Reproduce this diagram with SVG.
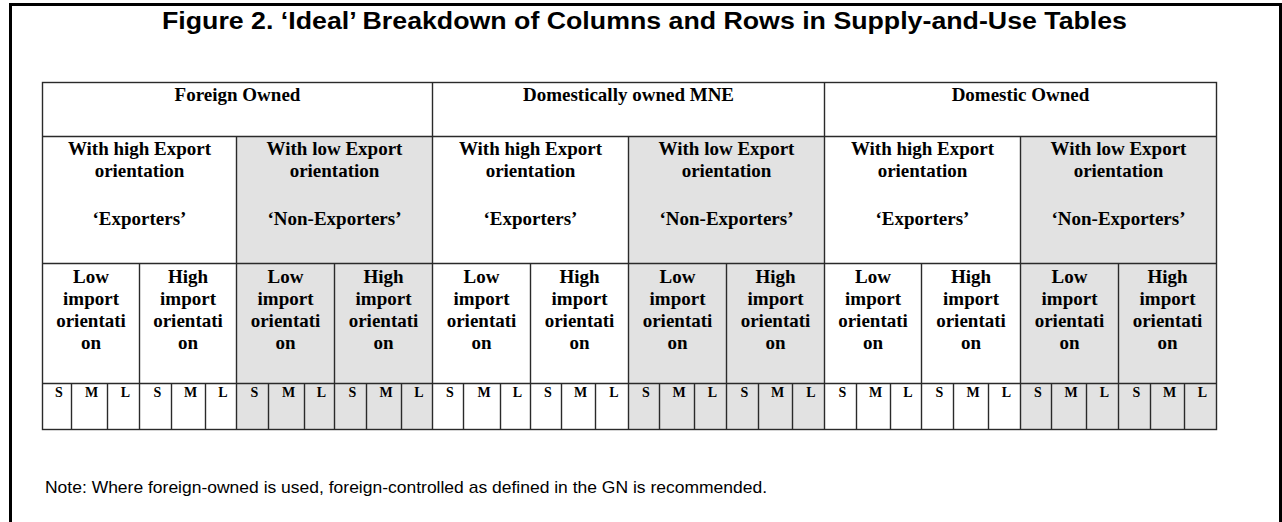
<svg xmlns="http://www.w3.org/2000/svg" width="1282" height="522" viewBox="0 0 1282 522">
<style>
.title{font-family:"Liberation Sans",Arial,sans-serif;font-weight:bold;font-size:23px;fill:#000}
.note{font-family:"Liberation Sans",Arial,sans-serif;font-size:17px;fill:#000}
.h{font-family:"Liberation Serif","Times New Roman",serif;font-weight:bold;font-size:19px;fill:#000;text-anchor:middle}
.s{font-family:"Liberation Serif","Times New Roman",serif;font-weight:bold;font-size:14px;fill:#000;text-anchor:middle}
.shade{fill:#e2e2e2}
.grid line,.grid rect{stroke:#2a2a2a;stroke-width:1.4;fill:none}
.frame{fill:none;stroke:#000;stroke-width:3}
</style>
<rect width="1282" height="522" fill="#fff"/>
<path class="frame" d="M10.5,530 V4.5 H1280.5 V530"/>
<text id="title" class="title" x="162" y="29" textLength="965" lengthAdjust="spacingAndGlyphs">Figure 2. ‘Ideal’ Breakdown of Columns and Rows in Supply-and-Use Tables</text>

<g id="shading">
<rect class="shade" x="236.5" y="136.5" width="196" height="293"/>
<rect class="shade" x="628.5" y="136.5" width="196" height="293"/>
<rect class="shade" x="1020.5" y="136.5" width="196" height="293"/>
</g>

<g id="grid" class="grid">
<rect x="42.5" y="82.5" width="1174" height="347"/>
<line x1="42.5" y1="136.5" x2="1216.5" y2="136.5"/>
<line x1="42.5" y1="263.5" x2="1216.5" y2="263.5"/>
<line x1="42.5" y1="383.5" x2="1216.5" y2="383.5"/>
<line x1="432.5" y1="82.5" x2="432.5" y2="429.5"/>
<line x1="824.5" y1="82.5" x2="824.5" y2="429.5"/>
<line x1="236.5" y1="136.5" x2="236.5" y2="429.5"/>
<line x1="628.5" y1="136.5" x2="628.5" y2="429.5"/>
<line x1="1020.5" y1="136.5" x2="1020.5" y2="429.5"/>
<line x1="139.5" y1="263.5" x2="139.5" y2="429.5"/>
<line x1="334.5" y1="263.5" x2="334.5" y2="429.5"/>
<line x1="530.5" y1="263.5" x2="530.5" y2="429.5"/>
<line x1="726.5" y1="263.5" x2="726.5" y2="429.5"/>
<line x1="921.5" y1="263.5" x2="921.5" y2="429.5"/>
<line x1="1118.5" y1="263.5" x2="1118.5" y2="429.5"/>
<line x1="71.5" y1="383.5" x2="71.5" y2="429.5"/>
<line x1="107.5" y1="383.5" x2="107.5" y2="429.5"/>
<line x1="171.5" y1="383.5" x2="171.5" y2="429.5"/>
<line x1="205.5" y1="383.5" x2="205.5" y2="429.5"/>
<line x1="268.5" y1="383.5" x2="268.5" y2="429.5"/>
<line x1="304.5" y1="383.5" x2="304.5" y2="429.5"/>
<line x1="366.5" y1="383.5" x2="366.5" y2="429.5"/>
<line x1="401.5" y1="383.5" x2="401.5" y2="429.5"/>
<line x1="463.5" y1="383.5" x2="463.5" y2="429.5"/>
<line x1="500.5" y1="383.5" x2="500.5" y2="429.5"/>
<line x1="561.5" y1="383.5" x2="561.5" y2="429.5"/>
<line x1="595.5" y1="383.5" x2="595.5" y2="429.5"/>
<line x1="659.5" y1="383.5" x2="659.5" y2="429.5"/>
<line x1="694.5" y1="383.5" x2="694.5" y2="429.5"/>
<line x1="758.5" y1="383.5" x2="758.5" y2="429.5"/>
<line x1="792.5" y1="383.5" x2="792.5" y2="429.5"/>
<line x1="856.5" y1="383.5" x2="856.5" y2="429.5"/>
<line x1="890.5" y1="383.5" x2="890.5" y2="429.5"/>
<line x1="953.5" y1="383.5" x2="953.5" y2="429.5"/>
<line x1="988.5" y1="383.5" x2="988.5" y2="429.5"/>
<line x1="1051.5" y1="383.5" x2="1051.5" y2="429.5"/>
<line x1="1086.5" y1="383.5" x2="1086.5" y2="429.5"/>
<line x1="1150.5" y1="383.5" x2="1150.5" y2="429.5"/>
<line x1="1184.5" y1="383.5" x2="1184.5" y2="429.5"/>
</g>

<g id="owner-headers">
<text class="h" x="237.5" y="101">Foreign Owned</text>
<text class="h" x="628.5" y="101">Domestically owned MNE</text>
<text class="h" x="1020.5" y="101">Domestic Owned</text>
</g>

<g id="export-headers">
<g id="exp-1"><text class="h" x="139.5" y="155">With high Export</text><text class="h" x="139.5" y="177">orientation</text><text class="h" x="139.5" y="225">‘Exporters’</text></g>
<g id="exp-2"><text class="h" x="334.5" y="155">With low Export</text><text class="h" x="334.5" y="177">orientation</text><text class="h" x="334.5" y="225">‘Non-Exporters’</text></g>
<g id="exp-3"><text class="h" x="530.5" y="155">With high Export</text><text class="h" x="530.5" y="177">orientation</text><text class="h" x="530.5" y="225">‘Exporters’</text></g>
<g id="exp-4"><text class="h" x="726.5" y="155">With low Export</text><text class="h" x="726.5" y="177">orientation</text><text class="h" x="726.5" y="225">‘Non-Exporters’</text></g>
<g id="exp-5"><text class="h" x="922.5" y="155">With high Export</text><text class="h" x="922.5" y="177">orientation</text><text class="h" x="922.5" y="225">‘Exporters’</text></g>
<g id="exp-6"><text class="h" x="1118.5" y="155">With low Export</text><text class="h" x="1118.5" y="177">orientation</text><text class="h" x="1118.5" y="225">‘Non-Exporters’</text></g>
</g>

<g id="import-headers">
<g id="imp-1"><text class="h" x="91" y="283">Low</text><text class="h" x="91" y="305">import</text><text class="h" x="91" y="327">orientati</text><text class="h" x="91" y="349">on</text></g>
<g id="imp-2"><text class="h" x="188" y="283">High</text><text class="h" x="188" y="305">import</text><text class="h" x="188" y="327">orientati</text><text class="h" x="188" y="349">on</text></g>
<g id="imp-3"><text class="h" x="285.5" y="283">Low</text><text class="h" x="285.5" y="305">import</text><text class="h" x="285.5" y="327">orientati</text><text class="h" x="285.5" y="349">on</text></g>
<g id="imp-4"><text class="h" x="383.5" y="283">High</text><text class="h" x="383.5" y="305">import</text><text class="h" x="383.5" y="327">orientati</text><text class="h" x="383.5" y="349">on</text></g>
<g id="imp-5"><text class="h" x="481.5" y="283">Low</text><text class="h" x="481.5" y="305">import</text><text class="h" x="481.5" y="327">orientati</text><text class="h" x="481.5" y="349">on</text></g>
<g id="imp-6"><text class="h" x="579.5" y="283">High</text><text class="h" x="579.5" y="305">import</text><text class="h" x="579.5" y="327">orientati</text><text class="h" x="579.5" y="349">on</text></g>
<g id="imp-7"><text class="h" x="677.5" y="283">Low</text><text class="h" x="677.5" y="305">import</text><text class="h" x="677.5" y="327">orientati</text><text class="h" x="677.5" y="349">on</text></g>
<g id="imp-8"><text class="h" x="775.5" y="283">High</text><text class="h" x="775.5" y="305">import</text><text class="h" x="775.5" y="327">orientati</text><text class="h" x="775.5" y="349">on</text></g>
<g id="imp-9"><text class="h" x="873" y="283">Low</text><text class="h" x="873" y="305">import</text><text class="h" x="873" y="327">orientati</text><text class="h" x="873" y="349">on</text></g>
<g id="imp-10"><text class="h" x="971" y="283">High</text><text class="h" x="971" y="305">import</text><text class="h" x="971" y="327">orientati</text><text class="h" x="971" y="349">on</text></g>
<g id="imp-11"><text class="h" x="1069.5" y="283">Low</text><text class="h" x="1069.5" y="305">import</text><text class="h" x="1069.5" y="327">orientati</text><text class="h" x="1069.5" y="349">on</text></g>
<g id="imp-12"><text class="h" x="1167.5" y="283">High</text><text class="h" x="1167.5" y="305">import</text><text class="h" x="1167.5" y="327">orientati</text><text class="h" x="1167.5" y="349">on</text></g>
</g>

<g id="size-cells">
<text class="s" x="59" y="397">S</text><text class="s" x="91.5" y="397">M</text><text class="s" x="125.5" y="397">L</text>
<text class="s" x="157.5" y="397">S</text><text class="s" x="190.5" y="397">M</text><text class="s" x="223" y="397">L</text>
<text class="s" x="254.5" y="397">S</text><text class="s" x="288.5" y="397">M</text><text class="s" x="321.5" y="397">L</text>
<text class="s" x="352.5" y="397">S</text><text class="s" x="386" y="397">M</text><text class="s" x="419" y="397">L</text>
<text class="s" x="450" y="397">S</text><text class="s" x="484" y="397">M</text><text class="s" x="517.5" y="397">L</text>
<text class="s" x="548" y="397">S</text><text class="s" x="580.5" y="397">M</text><text class="s" x="614" y="397">L</text>
<text class="s" x="646" y="397">S</text><text class="s" x="679" y="397">M</text><text class="s" x="712.5" y="397">L</text>
<text class="s" x="744.5" y="397">S</text><text class="s" x="777.5" y="397">M</text><text class="s" x="811" y="397">L</text>
<text class="s" x="842.5" y="397">S</text><text class="s" x="875.5" y="397">M</text><text class="s" x="908" y="397">L</text>
<text class="s" x="939.5" y="397">S</text><text class="s" x="973" y="397">M</text><text class="s" x="1006.5" y="397">L</text>
<text class="s" x="1038" y="397">S</text><text class="s" x="1071" y="397">M</text><text class="s" x="1104.5" y="397">L</text>
<text class="s" x="1136.5" y="397">S</text><text class="s" x="1169.5" y="397">M</text><text class="s" x="1202.5" y="397">L</text>
</g>

<text id="note" class="note" x="45" y="493" textLength="722" lengthAdjust="spacingAndGlyphs">Note: Where foreign-owned is used, foreign-controlled as defined in the GN is recommended.</text>
</svg>
